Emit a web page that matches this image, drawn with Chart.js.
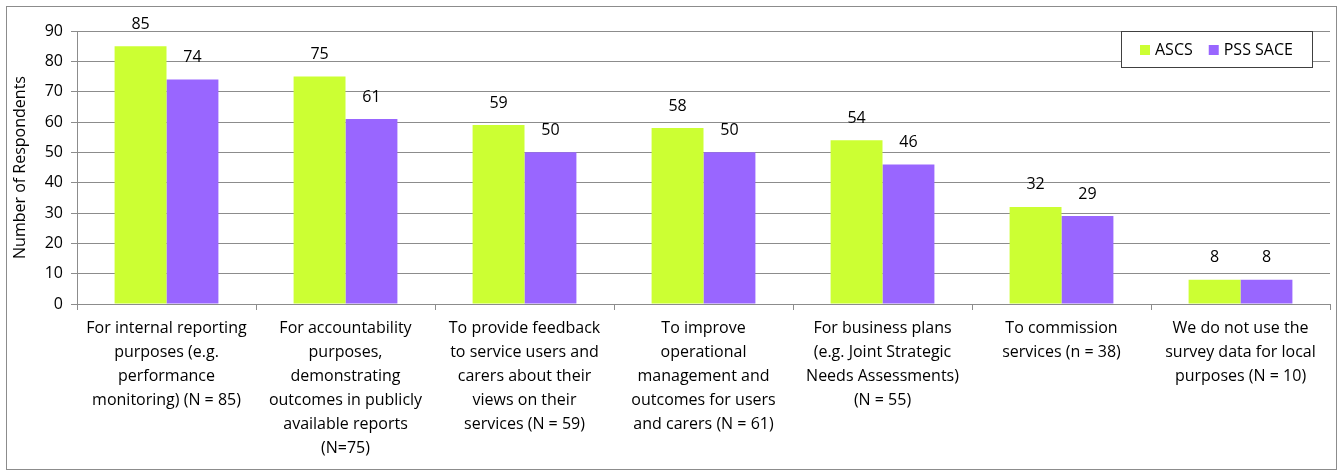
<!DOCTYPE html>
<html>
<head>
<meta charset="utf-8">
<script src="https://cdn.jsdelivr.net/npm/chart.js@4"></script>
<style>
  body { margin: 0; background: #fff; }
  #wrap { position: relative; width: 1343px; height: 475px; }
  #frame { position: absolute; left: 6px; top: 6px; width: 1331px; height: 464px; border: 1px solid #8c8c8c; box-sizing: border-box; pointer-events: none; }
</style>
</head>
<body>
<div id="wrap">
  <canvas id="chart" width="1343" height="475"></canvas>
  <div id="frame"></div>
</div>
<script>
const categories = [
    ['For internal reporting', 'purposes (e.g.', 'performance', 'monitoring) (N = 85)'],
    ['For accountability', 'purposes,', 'demonstrating', 'outcomes in publicly', 'available reports', '(N=75)'],
    ['To provide feedback', 'to service users and', 'carers about their', 'views on their', 'services (N = 59)'],
    ['To improve', 'operational', 'management and', 'outcomes for users', 'and carers (N = 61)'],
    ['For business plans', '(e.g. Joint Strategic', 'Needs Assessments)', '(N = 55)'],
    ['To commission', 'services (n = 38)'],
    ['We do not use the', 'survey data for local', 'purposes (N = 10)']
];
const ascsValues = [85, 75, 59, 58, 54, 32, 8];
const pssValues = [74, 61, 50, 50, 46, 29, 8];
const seriesNames = ['ASCS', 'PSS SACE'];
const yTicks = [0, 10, 20, 30, 40, 50, 60, 70, 80, 90];

const FONT = '"Open Sans", Lato, sans-serif';
const colors = ['#ccff33', '#9966ff'];

// 棒の上に値を表示
const valueLabels = {
    id: 'valueLabels',
    afterDatasetsDraw(chart) {
        const ctx = chart.ctx;
        ctx.save();
        ctx.font = '16px ' + FONT;
        ctx.fillStyle = '#000';
        ctx.textAlign = 'center';
        ctx.textBaseline = 'middle';
        chart.data.datasets.forEach((ds, i) => {
            chart.getDatasetMeta(i).data.forEach((bar, j) => {
                ctx.fillText(ds.data[j], bar.x, bar.y - 22);
            });
        });
        ctx.restore();
    }
};

// 枠付き凡例
const boxLegend = {
    id: 'boxLegend',
    afterDraw(chart) {
        const ctx = chart.ctx;
        const x0 = 1121, y0 = 31, w = 191, h = 36;
        ctx.save();
        ctx.fillStyle = '#fff';
        ctx.fillRect(x0, y0, w, h);
        ctx.strokeStyle = '#404040';
        ctx.lineWidth = 1;
        ctx.strokeRect(x0 + 0.5, y0 + 0.5, w, h);
        ctx.font = '16px ' + FONT;
        ctx.textBaseline = 'middle';
        ctx.textAlign = 'left';
        let x = x0 + 19;
        const cy = y0 + h / 2 + 1;
        seriesNames.forEach((name, i) => {
            ctx.fillStyle = colors[i];
            ctx.fillRect(x, cy - 5, 10, 10);
            ctx.fillStyle = '#000';
            ctx.fillText(name, x + 15, cy);
            x += 15 + ctx.measureText(name).width + 16;
        });
        ctx.restore();
    }
};

const ctx = document.getElementById('chart').getContext('2d');
new Chart(ctx, {
    type: 'bar',
    data: {
        labels: categories,
        datasets: [
            { label: seriesNames[0], data: ascsValues, backgroundColor: colors[0], categoryPercentage: 0.58, barPercentage: 1.0 },
            { label: seriesNames[1], data: pssValues, backgroundColor: colors[1], categoryPercentage: 0.58, barPercentage: 1.0 }
        ]
    },
    options: {
        responsive: false,
        animation: false,
        layout: { padding: { left: 11, right: 13, top: 31, bottom: 0 } },
        scales: {
            x: {
                grid: { display: true, drawOnChartArea: false, drawTicks: true, tickLength: 6, color: '#8c8c8c', offset: true },
                border: { display: true, color: '#8c8c8c' },
                ticks: { color: '#000', font: { family: FONT, size: 16, lineHeight: 1.5 }, maxRotation: 0, autoSkip: false, padding: 6 },
                afterFit(scale) { scale.height = 171; }
            },
            y: {
                min: 0,
                max: 90,
                afterBuildTicks(scale) { scale.ticks = yTicks.map(v => ({ value: v })); },
                grid: { color: '#8c8c8c', tickLength: 6 },
                border: { display: true, color: '#8c8c8c' },
                ticks: { color: '#000', font: { family: FONT, size: 16 }, padding: 8 },
                title: { display: true, text: 'Number of Respondents', color: '#000', font: { family: FONT, size: 16 }, padding: 0 },
                afterFit(scale) { scale.width = 66; }
            }
        },
        plugins: {
            legend: { display: false },
            tooltip: { enabled: false }
        }
    },
    plugins: [valueLabels, boxLegend]
});
</script>
</body>
</html>
